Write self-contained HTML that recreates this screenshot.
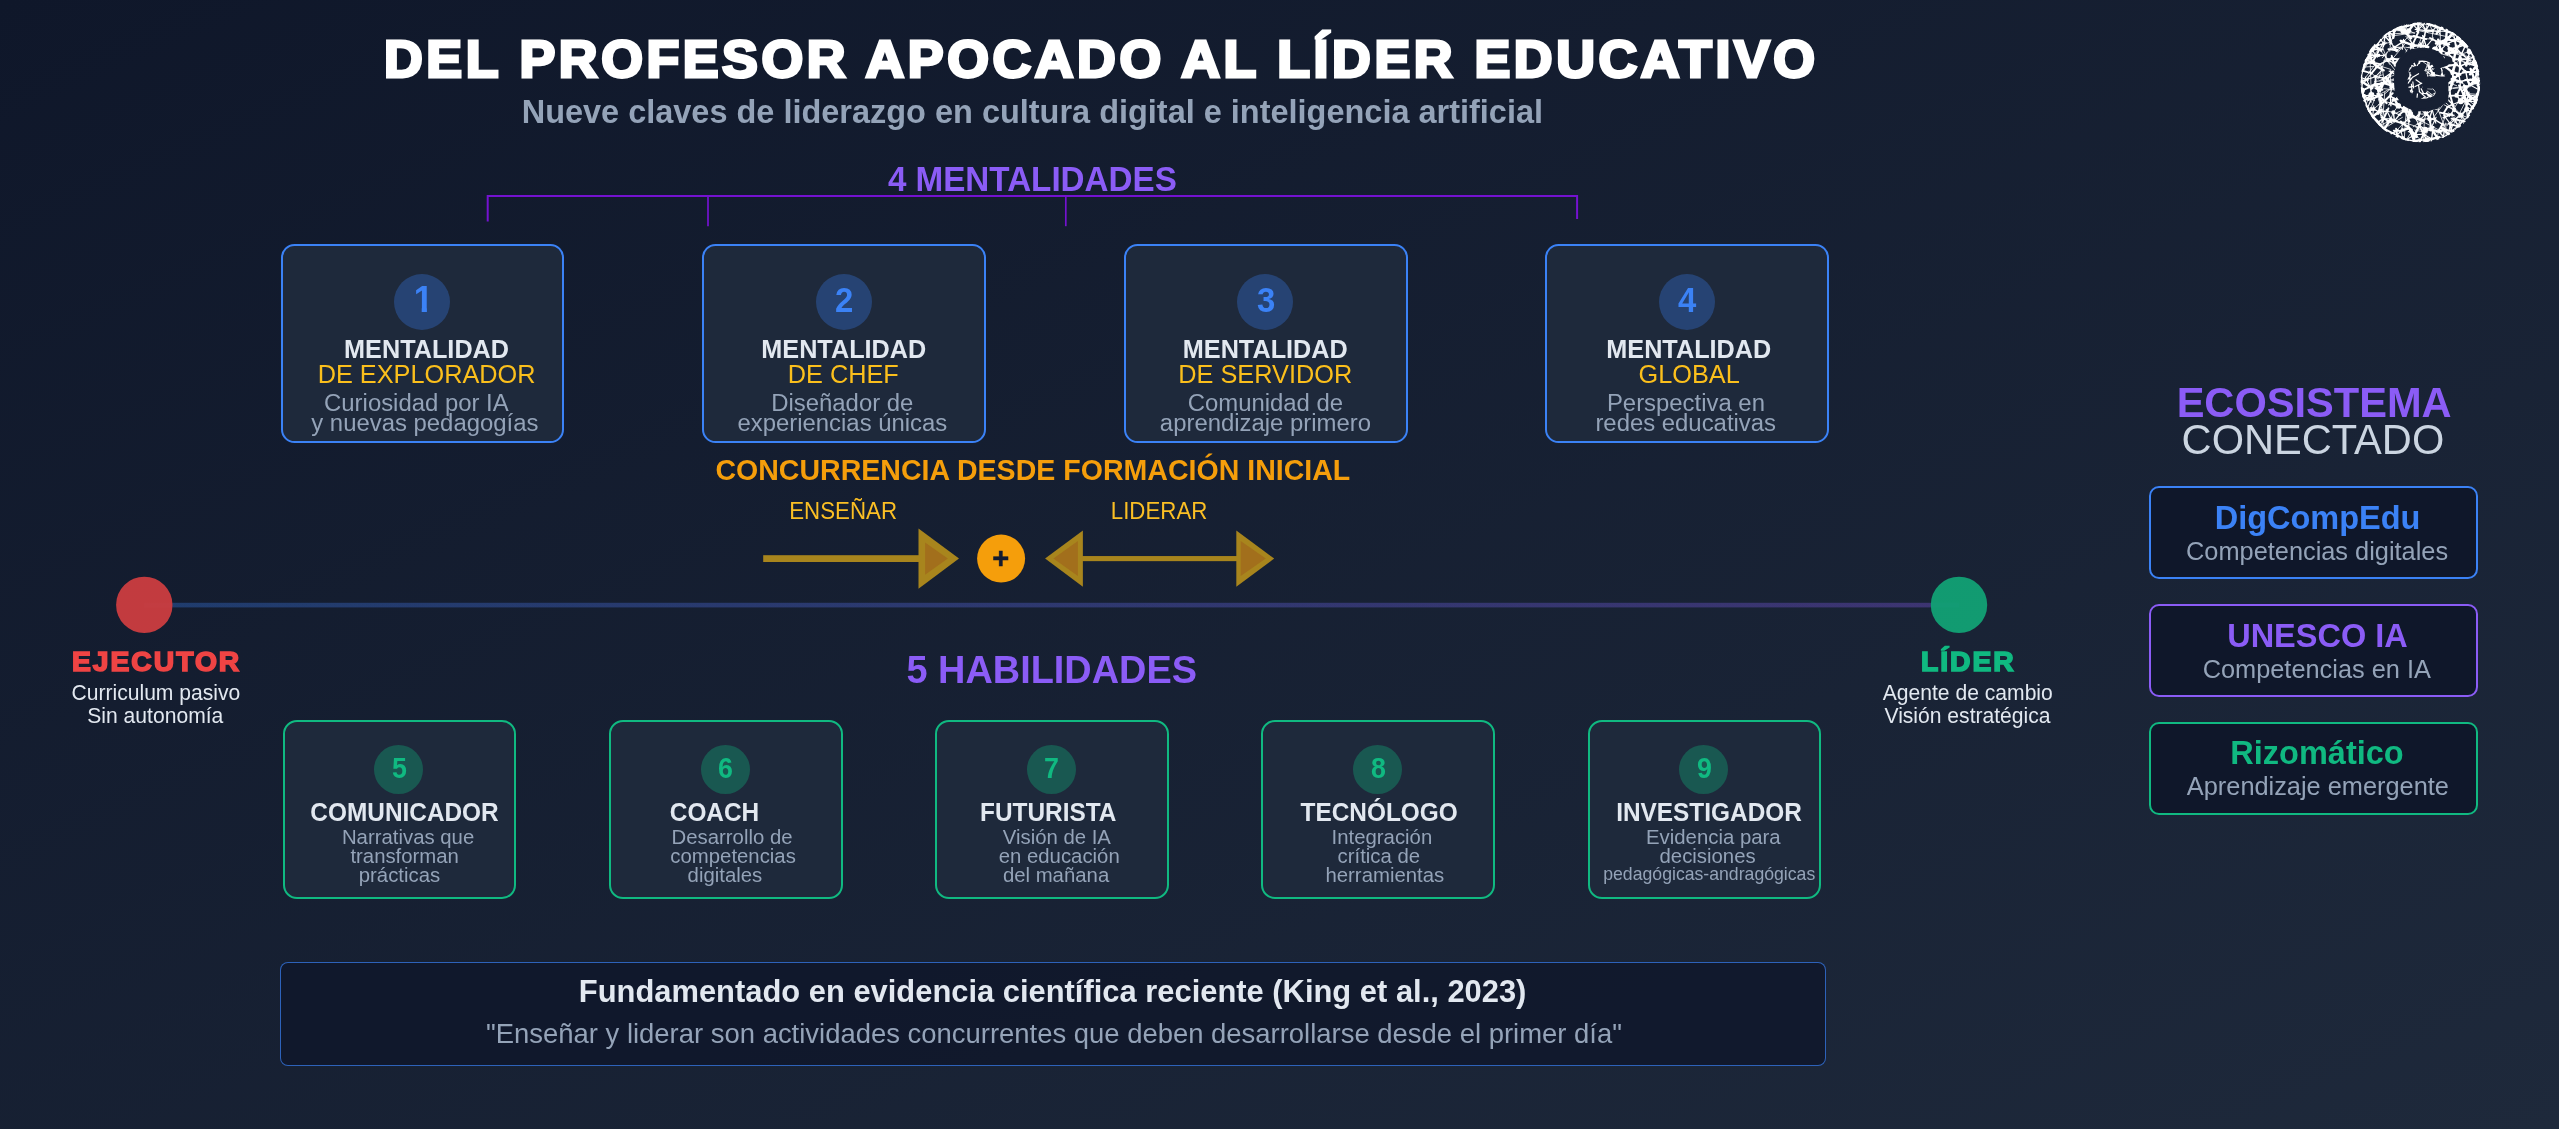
<!DOCTYPE html>
<html lang="es"><head><meta charset="utf-8"><title>Del profesor apocado al líder educativo</title>
<style>
html,body{margin:0;padding:0;}
body{width:2560px;height:1129px;overflow:hidden;position:relative;background:linear-gradient(to bottom right,#0f172a,#1e293b);font-family:"Liberation Sans",sans-serif;}
.t{position:absolute;white-space:nowrap;line-height:1;display:block;}
.b{position:absolute;box-sizing:border-box;}
.L{position:absolute;left:0;top:0;width:2560px;height:1129px;will-change:transform;}
.s{position:absolute;left:0;top:0;}
.edge{position:absolute;left:2559px;top:0;width:1px;height:1129px;background:#fff;}
</style></head><body>
<svg class="s" width="2560" height="1129" viewBox="0 0 2560 1129">
<defs><linearGradient id="tl" x1="0" y1="0" x2="1" y2="0"><stop offset="0" stop-color="#3b82f6"/><stop offset="1" stop-color="#8b5cf6"/></linearGradient></defs>
<g fill="none" stroke="#7412d0" stroke-width="2"><path d="M487.7 221.6V196H1577.1V218.9"/></g>
<g fill="none" stroke="#7412d0" stroke-width="1.7"><path d="M708 196V226.2"/><path d="M1065.8 196V226.2"/></g>
<rect x="144" y="602.8" width="1815" height="4.6" fill="url(#tl)" opacity="0.06"/>
<rect x="172.3" y="602.8" width="1758.6" height="4.6" fill="url(#tl)" opacity="0.27"/>
<circle cx="144.3" cy="604.9" r="28.2" fill="#ef4444" fill-opacity="0.8"/>
<circle cx="1959" cy="604.9" r="28.2" fill="#10b981" fill-opacity="0.8"/>
<rect x="763.2" y="555.2" width="160" height="6.8" fill="#a8851d"/>
<path d="M918.5 528.5L959 558.6L918.5 588.7Z" fill="#a8851d"/><path d="M925.1 542.4L947.8 558.6L925.1 574.8Z" fill="#a26f1c"/>
<rect x="1080" y="556.05" width="160" height="5.1" fill="#a8851d"/>
<path d="M1082.9 530.5L1045.1 558.6L1082.9 586.7Z" fill="#a8851d"/><path d="M1077.9 541.1L1053.4 558.6L1077.9 576.1Z" fill="#a26f1c"/>
<path d="M1236.3 530.5L1274.2 558.6L1236.3 586.7Z" fill="#a8851d"/><path d="M1240.7 541.1L1265.8 558.6L1240.7 576.1Z" fill="#a26f1c"/>
<circle cx="1001.1" cy="558.6" r="24" fill="#f59e0b"/>
<defs><clipPath id="lc"><circle cx="0" cy="0" r="59.8"/></clipPath></defs><g transform="translate(2420.4 82.4)" clip-path="url(#lc)"><path d="M-49.0 -19.1L-43.3 -27.8M51.9 0.4L42.4 8.1M38.9 44.4L28.5 41.0M33.4 33.0L19.8 30.2M39.4 -16.4L45.7 -10.0M-22.8 54.8L-24.3 46.2M42.2 -39.6L35.4 -34.2M-55.8 16.2L-59.4 5.7M-37.9 38.9L-32.0 25.9M-18.7 2.8L-11.8 -9.5M59.0 5.2L55.6 15.7M34.3 -43.3L35.9 -33.2M-4.2 -10.6L6.1 -3.4M-53.3 -28.0L-41.4 -26.3M-51.3 -31.0L-42.1 -38.2M45.8 39.5L31.1 36.2M0.2 -39.3L2.5 -26.6M-12.9 28.7L-24.7 21.8M-45.0 2.4L-39.4 7.1M1.2 9.7L-0.9 -2.3M-51.5 -25.3L-47.9 -35.3M16.8 1.1L12.0 -9.4M-40.9 14.3L-43.0 5.8M-46.9 35.6L-53.5 23.9M2.6 47.9L13.2 44.5M27.3 24.3L23.2 30.9M5.0 21.7L-3.9 26.5M26.4 47.3L15.7 49.3M-12.3 57.8L-19.3 55.0M21.0 49.3L9.5 47.6M57.6 -12.5L53.6 -0.9M-57.4 19.3L-47.2 11.1M-44.0 -26.7L-41.0 -33.2M24.6 -40.4L31.4 -31.3M52.5 -25.9L56.0 -15.9M-28.9 40.1L-38.8 34.9M12.0 21.9L9.5 12.7M25.3 15.7L30.4 13.0M45.5 3.5L43.2 15.8M-13.5 -25.6L-13.2 -18.4M57.6 -16.0L44.7 -19.7M-49.4 -8.5L-42.7 -16.5M33.4 48.6L21.7 47.6M-48.6 -20.3L-39.7 -18.1M8.3 33.8L-3.8 22.8M-42.3 31.7L-38.9 18.4M-51.9 -32.9L-37.9 -33.3M-16.3 41.5L-26.9 38.2M-38.3 20.9L-27.7 10.8M-44.9 3.1L-44.8 -6.4M37.0 13.0L29.2 13.3M-43.2 6.8L-36.6 0.5M-58.2 -11.8L-48.4 -9.1M47.6 25.5L39.2 34.4M-42.5 29.5L-32.5 28.7M-12.1 -46.2L-3.5 -45.7M-5.5 61.7L-10.6 47.4M26.6 -15.8L18.9 -15.7M-44.5 6.1L-37.9 7.3M-10.9 39.1L-16.6 24.4M-16.8 56.1L-24.0 52.4M-30.4 20.5L-21.4 23.6M-52.2 17.6L-38.2 12.6M-29.3 -24.1L-19.2 -22.0M-43.2 11.6L-33.7 20.8M47.7 -23.3L39.3 -23.2M47.1 -19.4L39.0 -15.9M17.8 49.5L22.2 41.4M-1.1 60.6L4.6 48.7M-27.2 -19.1L-19.9 -22.7M-32.0 -33.3L-22.7 -31.9M-2.9 -48.5L-9.3 -34.6M44.2 12.4L39.8 19.7M-28.7 -26.6L-25.6 -16.7M-14.8 -16.8L-7.0 -26.6M53.8 22.2L48.0 31.8M0.8 6.8L-5.6 5.0M59.0 -1.8L53.2 -2.7M44.9 15.8L38.6 3.0M-39.0 0.2L-26.5 4.0M33.3 -3.1L25.6 3.2M31.4 49.4L29.7 40.5M-52.5 5.4L-42.7 1.6M40.1 5.0L36.0 13.6M-57.6 -17.7L-46.0 -20.9M11.2 46.8L8.7 34.9M-3.4 15.7L-11.3 10.4M40.3 -23.3L32.8 -22.6M-6.8 -46.4L5.8 -43.3M54.5 -10.4L42.3 -10.2M-25.9 51.6L-38.2 45.5M31.7 31.6L23.0 35.3M56.4 -2.6L44.8 -2.4M-21.3 32.6L-15.3 27.0M-8.2 -37.4L0.9 -36.7M33.0 24.9L29.2 10.4M31.8 -11.3L33.2 -1.9M-60.1 8.9L-48.7 3.8M13.2 22.1L3.5 15.5M58.4 -4.3L57.0 2.9M25.6 -42.6L34.5 -42.1M-21.5 -22.7L-12.3 -18.4M36.7 -18.1L22.5 -15.4M-52.1 28.7L-46.5 26.6M11.0 14.5L-0.6 5.8M-30.2 4.7L-24.5 0.3M-3.2 1.6L3.0 -0.6M9.6 -44.4L20.7 -38.8M-33.5 -1.4L-28.2 -11.0M-11.4 11.1L-5.1 4.6M30.2 5.3L22.9 11.8M-6.5 5.8L1.7 -1.1" stroke="#fff" stroke-width="1.9" fill="none" stroke-linecap="round"/><path d="M-1.1 44.0L0.1 35.9M-55.0 -2.4L-43.7 -6.2M-40.1 43.2L-42.5 39.3M44.3 -39.9L50.4 -28.8M48.4 -32.2L53.6 -24.0M12.2 -52.9L11.9 -41.8M-40.7 43.5L-36.2 35.4M7.2 -21.9L8.9 -14.6M-35.9 -1.0L-38.7 -15.9M25.7 31.9L20.9 44.7M-28.1 31.3L-21.0 22.0M-1.6 -54.8L-4.7 -43.6M-19.2 11.1L-17.2 -0.3M-6.4 5.7L1.1 -0.3M-51.1 4.3L-42.1 6.6M14.1 -20.3L22.7 -14.4M-0.2 1.0L1.3 -0.9M-42.4 43.8L-29.0 38.0M-4.2 -61.2L7.6 -49.7M24.3 49.0L21.5 40.7M-24.9 -12.5L-10.3 -5.6M-5.6 -28.5L0.1 -21.1M33.3 -23.6L34.7 -16.8M-41.9 22.1L-33.5 17.3M-31.9 -32.4L-24.7 -35.7M0.4 39.1L-1.7 29.6M1.9 24.2L5.3 15.4M19.4 -54.5L27.5 -50.5M24.4 -7.5L14.0 1.1M-42.6 -31.3L-35.1 -40.6M-26.9 -51.9L-16.3 -51.4M-34.2 28.6L-26.1 30.1M27.7 24.5L19.7 20.3M57.3 11.0L51.1 27.6M-10.8 49.1L-12.3 32.9M4.9 58.2L12.9 55.9M-29.6 -42.0L-30.6 -31.1M-53.3 25.2L-46.4 26.9M-34.1 -3.2L-24.8 2.3M41.2 -24.9L32.9 -15.9M31.7 47.9L27.6 52.1M-51.3 -11.4L-42.3 -3.6M16.3 57.9L18.7 46.3M49.7 -31.0L40.7 -28.3M12.3 36.2L-3.3 37.1M-29.5 2.0L-13.9 -0.2M-41.6 16.2L-39.0 4.4M-17.4 -40.6L-11.2 -46.3M54.3 24.3L43.9 27.8M20.2 49.9L8.8 44.3M1.5 58.5L-6.7 51.2M-49.0 13.7L-50.4 3.4M-47.9 27.5L-38.5 19.9M43.3 41.6L39.8 29.9M7.4 -38.3L0.5 -26.5M-38.0 -38.5L-28.4 -40.3M-51.4 29.2L-52.9 24.7M-20.3 50.7L-16.4 38.9M-10.3 -25.3L1.4 -21.0M-26.4 21.8L-39.2 17.6M-30.1 -9.6L-20.7 -11.3M-11.6 -12.3L-3.4 -15.3M54.3 -26.8L45.0 -17.7M-26.9 18.5L-17.9 9.3M-58.4 18.3L-46.4 16.1M-58.9 -4.0L-57.7 -12.3M-2.3 34.5L-15.0 36.8M23.8 54.4L16.3 55.4M-0.2 -57.2L11.5 -58.4M14.0 -8.2L2.5 -4.7M57.9 -2.5L58.4 7.7M30.4 41.4L21.4 42.0M-24.2 48.4L-16.9 40.9M7.7 -60.6L13.4 -49.0M48.8 35.5L39.0 32.3M-11.9 -53.5L-11.3 -44.1M-15.2 59.1L-8.2 48.4M-28.1 50.6L-19.4 48.3M-37.9 0.8L-25.2 1.6M10.7 38.9L4.1 29.0M-13.3 39.4L-8.8 28.3M-29.7 36.8L-26.9 29.7M14.3 -35.2L15.2 -23.5M55.5 -4.0L48.0 3.9M7.3 31.5L-2.6 31.8M-38.1 -24.6L-28.2 -35.5M-16.0 -58.2L-10.5 -49.5M-41.9 -34.2L-35.1 -26.0M36.3 39.0L28.1 30.2M47.3 -18.7L38.8 -23.6M4.5 -6.3L0.1 0.9M-18.2 0.6L-8.6 -2.5M17.2 -33.6L3.7 -31.8M-13.3 -59.1L-18.4 -48.5M3.1 -43.9L12.0 -43.2M-1.9 -38.8L8.9 -30.1M56.0 -19.2L45.9 -24.1" stroke="#fff" stroke-width="0.8" fill="none" stroke-linecap="round"/><path d="M5.8 -53.8L2.7 -42.0M49.1 12.2L42.5 13.5M23.2 54.4L18.2 48.9M45.2 -11.7L47.3 -1.0M4.3 -6.0L-0.4 1.3M-58.5 11.0L-58.3 -3.5M-46.3 -6.1L-35.0 -3.8M-2.4 34.8L3.6 20.1M-49.7 25.3L-38.9 30.8M-8.2 -38.1L-5.0 -27.4M34.9 -35.4L42.0 -27.5M1.5 -6.4L12.1 -0.2M20.7 -24.0L20.8 -14.7M23.0 56.2L24.0 46.1M-33.6 39.2L-23.5 38.3M-56.0 -23.3L-46.3 -19.4M42.1 -39.3L34.2 -42.2M43.5 37.6L36.5 45.1M16.1 -26.0L6.2 -21.0M48.5 9.9L45.6 21.7M-15.1 -56.1L-6.8 -57.6M-34.4 -23.1L-24.6 -18.6M-27.7 -34.0L-15.7 -41.8M-3.5 59.3L-16.9 56.5M8.2 60.6L1.4 49.0M47.1 35.3L46.1 26.6M45.3 6.0L39.5 5.5M-32.0 -50.5L-26.3 -46.4M26.9 2.9L16.3 4.2M-46.7 35.7L-52.7 27.0M12.5 57.1L1.8 51.1M8.5 38.1L12.4 25.7M-20.6 -22.5L-22.0 -11.0M-41.4 -17.5L-31.2 -23.0M50.3 -3.2L36.4 -0.1M33.8 23.7L24.2 13.9M60.1 -11.1L48.3 -10.1M51.9 -28.2L55.2 -17.1M49.6 -32.7L47.1 -21.5M10.9 59.3L12.7 45.1M-58.1 1.8L-59.1 -7.1M56.4 11.0L56.0 21.5M38.9 -30.4L49.8 -21.4M-44.8 -36.0L-39.3 -42.6M-9.7 -27.4L-3.2 -12.2M-34.9 -49.4L-37.1 -35.6M27.7 13.7L18.2 22.2M32.9 -49.5L34.6 -41.5M11.9 27.7L11.7 20.9M39.7 -1.4L39.9 6.1M-42.9 39.9L-36.0 35.7M48.2 -38.8L32.9 -33.5M37.3 -45.5L46.6 -36.8M37.7 44.2L34.3 36.7M38.3 -8.8L39.8 -0.3M24.7 34.8L23.2 30.7M-22.4 -5.3L-12.1 -7.2M-29.5 51.5L-22.4 47.2M23.7 43.0L12.7 36.3M2.3 -46.7L6.8 -32.9M-1.2 25.3L-3.8 15.2M58.0 0.4L48.8 2.6M-44.5 -26.7L-35.5 -27.0M16.1 37.7L7.4 36.1M1.9 -58.4L5.8 -51.0M54.5 27.4L43.8 16.7M44.4 13.3L35.5 13.0M-26.0 38.7L-27.0 29.8M2.8 -31.5L-1.0 -19.2M-37.3 1.1L-32.5 -2.8M11.3 -51.6L18.9 -51.0M-21.9 -55.6L-16.0 -50.6M16.7 -0.5L9.2 -1.6M25.0 9.6L16.7 18.8M40.0 -18.4L38.1 -6.0M-47.1 -35.5L-34.1 -39.5M56.2 -20.2L44.6 -19.0M-26.1 38.7L-20.9 32.2M-36.0 -45.7L-30.9 -50.7M41.0 33.0L33.3 27.2M-1.2 32.5L-1.3 24.3M26.8 -0.1L22.4 14.7M-13.1 -13.8L0.8 -7.8M41.6 32.2L33.5 37.5M-25.2 17.9L-30.6 12.5M-57.1 -21.2L-40.9 -28.0M-37.0 1.1L-36.5 -4.3M0.9 10.2L0.0 -3.1M24.1 -5.5L11.0 -8.1M38.7 -40.7L48.6 -36.5M7.9 16.9L-6.8 15.1M19.5 -41.7L13.4 -31.5M50.6 29.5L45.2 26.5M3.3 52.4L-1.2 42.5M-1.8 1.6L2.2 -1.4M-52.5 26.0L-55.8 17.2M-54.9 20.2L-57.3 11.2M4.3 -47.0L-0.4 -33.7M34.7 25.9L28.9 33.8M49.7 28.8L47.0 35.1M9.3 -58.8L4.9 -51.1M27.4 -29.6L33.8 -22.3M-59.8 12.4L-46.1 17.9M-34.7 -49.0L-23.0 -53.0M41.4 20.2L35.2 11.6M-38.3 -2.8L-27.0 -11.2M-12.6 -3.2L2.7 1.6M37.4 -43.3L23.1 -37.3M32.7 21.8L26.9 24.6M-36.7 -47.7L-28.5 -38.6M8.3 57.8L-1.4 57.5M58.9 4.5L55.5 21.6M-30.4 15.0L-28.2 1.5M45.8 -38.5L40.8 -27.7M47.5 -10.8L36.4 -7.7M-29.5 23.4L-30.2 10.4M-14.9 -19.6L-2.6 -14.2" stroke="#fff" stroke-width="1.4" fill="none" stroke-linecap="round"/><path d="M-16.4 48.5L-27.0 48.0M-5.6 -17.7L-0.5 -6.2M29.8 5.5L29.9 13.4M-31.7 22.5L-23.7 15.6M-17.6 55.7L-19.5 48.3M-60.8 0.5L-51.4 -3.9M38.8 43.1L30.0 49.3M28.0 52.2L30.0 40.9M26.1 -38.5L20.3 -32.1M20.5 -17.5L22.7 -4.1M41.6 -29.8L39.1 -21.8M-36.8 36.1L-29.3 36.5M-11.6 -46.7L-7.8 -36.9M27.5 18.2L21.6 8.7M31.3 43.3L23.3 32.8M57.3 13.8L46.9 12.3M-8.0 33.0L-17.7 25.6M-14.7 -25.3L-7.3 -24.5M59.4 18.8L42.9 19.2M-31.8 -42.8L-24.1 -32.3M-49.4 19.9L-49.0 9.3M44.3 -27.5L31.9 -31.5M-52.9 25.8L-49.1 16.2M16.6 -56.3L11.5 -50.9M-15.5 58.0L-4.0 51.4M58.6 -2.3L48.7 2.9M-19.7 32.9L-28.3 29.4M15.7 -1.7L17.6 5.2M54.3 -20.1L55.8 -16.4M22.4 -34.8L12.9 -22.8M-14.4 -4.4L-9.5 -15.2M-15.2 -9.5L-7.5 0.3M-1.7 38.4L7.4 30.0M-5.3 -53.0L8.4 -51.5M-40.2 -18.7L-38.0 -12.4M-40.6 -41.3L-34.3 -47.3M29.1 51.1L22.2 55.0M31.3 13.6L21.9 11.2M-2.5 -59.2L2.9 -57.3M-49.1 7.0L-55.1 -5.3M-49.8 -34.4L-43.0 -25.3M-20.0 54.4L-31.1 49.1M5.7 51.7L-8.1 52.4M-20.9 -22.2L-13.2 -25.3M-25.1 55.2L-17.6 45.9M11.1 12.6L3.5 17.4M-20.0 10.5L-10.0 10.7M31.8 -49.9L39.6 -43.4M-59.1 14.0L-46.6 12.2M-9.3 51.2L-11.4 44.9M-60.7 -5.4L-52.0 -2.1M28.9 -51.1L15.5 -51.1M-48.1 37.6L-46.6 23.3M-6.2 35.8L-0.3 31.1M-24.4 -32.1L-17.7 -35.3M-3.7 -29.5L-10.0 -23.1M-2.0 -9.7L1.1 0.4M19.7 -32.3L28.3 -29.0M-36.2 36.5L-42.0 29.0M-5.4 5.4L-9.7 -2.6M12.8 26.8L4.8 32.2M-31.3 -11.3L-18.8 -4.1M-28.8 38.1L-34.1 27.1M4.3 -59.4L-4.1 -50.7M14.4 48.3L2.8 46.9M-18.5 42.6L-10.6 34.9M-45.0 -5.6L-37.9 -13.0M54.2 -25.9L46.0 -22.7M-36.6 -28.1L-31.8 -21.2M-40.0 -43.0L-36.1 -38.1M-44.8 -14.7L-38.6 -19.3M-31.4 39.3L-29.3 36.1M-15.3 18.1L-20.3 8.1M-56.0 -0.1L-46.7 -11.9M-3.0 53.5L-12.0 49.2M0.7 -23.2L-5.3 -13.4M12.9 -44.4L4.9 -34.5M9.7 47.9L15.7 34.8M-8.0 -58.3L-1.4 -51.9M14.5 -58.5L19.5 -48.2M42.2 18.0L30.4 22.8M37.9 -45.2L42.3 -38.7M34.4 27.8L26.5 23.9M-30.7 -38.0L-26.0 -48.8M21.1 18.0L7.1 12.5M-49.3 12.6L-40.9 13.7M56.7 -14.1L58.3 1.3M26.7 -15.1L14.1 -19.7M7.2 48.8L-3.2 41.4M-56.3 -15.5L-53.0 -25.3M12.6 48.6L10.6 44.7M-26.8 -35.0L-17.2 -35.3M49.4 33.0L40.2 40.6M-16.9 -43.1L-18.1 -32.9M2.8 52.7L5.3 46.4M59.0 2.0L52.7 -3.9M-27.1 -51.4L-20.0 -55.2M34.1 29.4L31.7 20.1M59.5 7.8L48.2 1.9M-0.5 43.8L-5.8 34.3M15.4 40.8L11.0 24.1M-38.2 -4.9L-31.1 -1.7M17.5 55.2L10.6 56.5M-27.9 -22.1L-20.6 -8.5M35.2 36.1L29.1 42.3M41.1 -15.8L33.0 -18.1M18.2 4.7L9.0 -2.2M-34.6 47.8L-41.8 41.6" stroke="#fff" stroke-width="1.1" fill="none" stroke-linecap="round"/><path d="M1.0 -28.4L7.4 -32.9M-18.6 -51.5L-10.2 -51.5M57.1 -2.5L58.8 10.3M-8.7 47.5L-19.6 39.4M16.4 -19.2L8.5 -14.7M30.5 6.1L25.2 2.6M-44.6 -16.6L-36.8 -12.1M-1.2 -37.1L7.8 -35.4M26.6 15.3L17.6 17.1M-14.2 -21.0L-9.7 -10.5M-42.1 7.8L-45.6 1.1M22.5 -56.1L16.2 -48.9M20.9 20.4L11.0 21.2M49.4 2.7L46.9 -2.7M30.6 -34.2L27.1 -28.2M41.5 -0.3L31.3 -3.4M6.0 -21.9L17.2 -18.6M54.1 -20.9L57.3 -10.0M-60.3 -1.9L-48.4 5.8M-23.6 -54.0L-12.0 -56.8M23.1 -24.8L13.6 -17.0M20.2 20.6L18.4 16.8M-5.7 -59.6L-13.3 -49.4M-1.8 -61.8L-2.3 -49.8M15.9 -40.4L28.6 -38.0M24.3 -51.8L35.0 -48.3M-6.7 54.6L0.2 40.7M46.4 19.1L40.2 18.7M13.9 -26.0L21.9 -22.3M4.8 -51.9L12.6 -51.5M-32.8 -22.2L-27.6 -23.9M-41.5 40.4L-48.6 33.3M18.4 57.9L10.7 45.5M-31.6 -50.5L-29.7 -39.7M47.3 21.6L42.6 10.8M-25.9 -54.1L-27.1 -44.6M13.4 -9.2L9.3 -0.1M-16.9 28.8L-9.5 20.1M-50.5 36.3L-38.9 27.3M-25.8 38.6L-29.8 36.4M57.0 17.5L51.2 26.4M4.5 58.2L18.9 54.8M48.0 -25.5L45.9 -16.9M21.6 -8.0L26.7 5.1M46.2 18.9L46.1 27.3M35.2 -31.7L33.3 -21.4M-9.5 -56.9L0.3 -59.6M-21.2 24.8L-26.6 15.9M-10.1 22.5L-17.2 14.8M-19.0 -53.4L-9.4 -44.2M5.9 -35.9L6.4 -32.1M26.5 -53.3L25.5 -40.5M49.2 15.4L43.7 3.0M-3.3 36.6L-12.1 29.8M-56.2 -16.7L-49.8 -29.2M35.1 -19.4L31.4 -8.6M-50.8 -28.2L-48.1 -19.7M1.5 -29.9L7.8 -20.7M-7.1 6.4L1.1 -0.7M25.0 13.7L15.6 1.9M55.2 -19.4L57.7 -7.9M23.5 -16.8L33.2 -9.3M-58.1 -11.0L-55.1 -19.0M28.3 -34.0L36.6 -29.6M50.2 -13.5L55.3 0.6M20.4 -23.5L25.1 -15.2M57.6 20.1L46.3 11.2M13.0 -33.5L21.8 -31.8M-34.1 48.8L-44.4 37.3M25.6 -43.3L26.1 -37.8M0.7 7.2L0.8 -0.7M-46.5 -37.8L-39.2 -31.7M-27.7 17.7L-14.6 15.2M17.8 -42.8L21.0 -29.2M-49.0 -20.9L-42.6 -15.2M30.6 53.9L21.3 45.6M6.1 32.3L2.0 22.3M-8.4 -27.5L5.2 -29.6M-37.9 49.4L-29.3 36.1M28.6 -43.7L15.6 -38.8M-48.0 3.1L-33.9 0.2M34.0 -5.5L28.9 8.2M3.0 37.9L-8.4 34.0M-22.0 -11.7L-21.2 -5.0M39.5 -26.3L39.7 -13.1M14.7 -28.1L16.4 -16.4M-40.3 8.7L-36.3 -0.8M35.3 -50.9L23.4 -40.7M37.2 -30.9L25.5 -28.8M39.3 -45.0L33.6 -41.5M57.2 13.1L45.3 19.6M38.7 -8.6L32.7 -2.6M-13.4 23.9L-1.2 13.2M-6.6 58.9L-5.5 52.1M-19.5 -41.6L-5.7 -36.6M-17.4 16.4L-10.0 9.9M-3.7 54.5L-13.0 43.5M-21.5 -5.8L-17.1 0.5M36.1 -36.6L34.6 -28.3M8.0 -16.4L13.6 -6.3M-54.7 -21.4L-49.9 -28.7M-39.1 22.4L-41.4 12.0M39.9 -7.8L30.5 -10.8M-0.8 -21.6L7.7 -21.5M57.4 -18.7L49.7 -8.2M-19.7 48.4L-11.0 45.6M19.2 16.5L11.0 21.6M0.6 57.5L-6.8 58.7M37.3 -34.8L28.3 -32.8M-26.7 6.0L-34.7 -5.1M-39.9 43.4L-48.2 33.7M-27.0 3.0L-20.4 -6.9M-26.5 -35.7L-23.9 -31.5M-9.8 34.7L-11.1 18.4M7.0 -58.8L17.8 -54.9M14.2 -56.2L22.4 -53.3" stroke="#fff" stroke-width="2.4" fill="none" stroke-linecap="round"/><path d="M12.8 -5.7L26.3 17.9M53.1 2.5L29.0 6.1M-14.9 40.6L10.9 48.8M7.7 -19.9L-2.2 8.8M0.7 -6.9L21.9 17.1M-2.4 -24.2L12.9 -13.3M47.7 16.8L75.7 31.4M6.3 -57.0L1.4 -29.1M-15.1 -35.2L9.7 -31.8M30.3 -29.4L61.2 -23.2M-47.2 -18.7L-29.1 -12.8M-17.7 34.8L-32.7 43.9M50.4 4.2L32.2 6.2M-20.6 -42.3L-11.4 -27.2M23.7 19.0L43.9 36.8M-51.9 16.1L-58.4 32.0M35.7 -19.6L28.9 8.4M-50.3 -22.2L-49.1 13.2M9.7 -30.6L22.1 -11.6M-11.4 17.1L-12.1 47.3M-35.6 9.4L-37.9 40.2M5.1 -13.5L26.9 13.3M-6.1 47.6L7.4 50.3M-1.7 2.5L18.8 17.5M30.9 -48.8L10.8 -28.3M-3.7 -26.9L-37.4 -21.3M-6.2 -31.5L10.1 -29.1M-7.5 -21.0L6.4 11.4M-5.4 44.2L6.4 50.8M-42.2 16.4L-35.6 33.7M-1.5 -36.8L-2.0 -21.7M-29.8 -12.5L-30.0 7.2M46.8 16.1L30.8 46.7M-36.9 6.2L-16.0 8.7M-14.6 -39.4L-27.0 -24.6M-45.8 -17.2L-64.1 7.7M54.7 -9.8L63.1 7.5M7.9 9.4L-17.1 17.3M17.5 -29.6L32.1 -25.4M28.2 -17.8L41.5 -15.8M-33.1 -30.7L-41.7 -3.5M-0.1 -36.6L-12.6 -35.0M-0.5 -51.5L30.7 -44.9M-20.1 -16.0L-0.8 -12.9M25.3 40.3L26.3 67.8M9.3 -6.3L36.6 3.4M-46.4 -16.0L-75.8 -14.0M-8.6 -7.9L-27.9 -3.3M17.4 26.2L25.6 48.0M-0.8 5.6L12.0 6.7M21.6 12.5L17.7 29.3M32.0 37.8L42.0 44.8M-9.9 18.7L18.3 27.9M-31.7 -20.5L-15.6 0.5M-16.3 -1.0L-45.1 14.2M1.1 -44.8L-9.5 -18.8M27.9 15.3L9.2 40.2M-12.6 -13.8L2.3 13.9M-12.1 -12.6L-41.0 -1.8M-13.1 -33.3L-22.8 -10.9M-14.8 -46.4L-6.4 -36.9M-40.2 31.7L-35.5 45.7M38.2 36.6L43.8 56.2M9.6 55.3L-23.2 65.1M4.0 37.6L2.4 73.4M5.1 21.0L17.7 22.6M46.3 16.7L70.7 35.0M44.5 -36.3L56.5 -23.3M-10.0 -36.1L-8.9 -15.1M34.8 34.0L26.3 43.6M-37.6 -7.6L-59.9 -1.1M-45.1 15.0L-52.7 34.2M-4.9 35.5L22.2 49.5M-29.3 3.4L-8.5 11.6M46.0 11.1L73.1 13.3M-47.0 -30.1L-58.9 -7.9M29.3 -47.6L50.2 -34.5M-10.9 -48.8L-38.2 -45.3M3.1 19.7L5.8 32.4M51.8 -18.3L72.6 -10.3M-1.0 -3.1L-14.8 -2.9M29.8 5.8L12.3 11.7M10.7 -14.0L-19.3 -4.5M41.6 35.0L34.8 47.5M5.7 36.2L-7.6 44.6M-36.3 -40.1L-46.9 -26.7M19.9 -52.0L19.9 -39.2M15.1 9.5L2.0 41.5M5.7 -10.8L21.4 -1.9M-16.7 -55.0L-5.7 -48.8M10.6 -27.4L5.6 1.9M34.8 -2.8L29.6 8.1M-10.3 -4.9L-38.7 0.3M-39.6 -38.9L-30.8 -17.8M25.1 -29.0L49.7 -17.1M51.8 -1.2L33.3 26.5M-3.2 21.3L-24.6 30.8M-14.2 28.9L-16.1 55.7M-21.5 -0.4L-36.7 12.3M32.0 -3.9L43.9 1.9M-5.2 -49.7L-35.5 -48.3M-33.3 47.2L-59.0 56.8M-17.8 -3.8L-46.4 -0.9M31.0 22.2L44.7 36.9M20.5 -18.3L-0.4 -4.3" stroke="#fff" stroke-width="0.8" fill="none"/><g fill="#fff"><circle cx="6.5" cy="57.7" r="2.9"/><circle cx="-17.6" cy="55.6" r="2.1"/><circle cx="-56.6" cy="13.7" r="2.3"/><circle cx="-58.5" cy="8.2" r="3.0"/><circle cx="-48.8" cy="-33.0" r="2.9"/><circle cx="-26.2" cy="-51.9" r="1.9"/><circle cx="-20.9" cy="-54.7" r="3.2"/><circle cx="-2.0" cy="-59.0" r="2.1"/><circle cx="38.4" cy="-44.4" r="2.8"/><circle cx="41.8" cy="-39.4" r="2.9"/><circle cx="45.5" cy="-37.8" r="3.2"/><circle cx="49.2" cy="-30.9" r="2.9"/><circle cx="54.4" cy="-20.0" r="2.9"/><circle cx="56.1" cy="18.9" r="2.5"/><circle cx="-46.9" cy="26.7" r="2.0"/><circle cx="-49.1" cy="12.6" r="2.9"/><circle cx="-36.6" cy="-38.7" r="1.8"/><circle cx="-17.0" cy="-51.5" r="3.0"/><circle cx="-11.8" cy="-51.5" r="2.4"/><circle cx="25.7" cy="-42.6" r="2.0"/><circle cx="54.2" cy="-2.5" r="3.1"/><circle cx="46.1" cy="27.0" r="2.4"/><circle cx="40.7" cy="32.8" r="2.5"/><circle cx="4.9" cy="47.2" r="2.8"/><circle cx="39.5" cy="-23.2" r="2.3"/><circle cx="40.3" cy="18.8" r="3.0"/><circle cx="33.6" cy="27.4" r="2.0"/><circle cx="14.5" cy="-33.2" r="2.7"/><circle cx="20.3" cy="-32.1" r="2.4"/><circle cx="36.2" cy="13.1" r="2.3"/><circle cx="9.0" cy="36.4" r="2.2"/><circle cx="-27.0" cy="30.0" r="2.1"/><circle cx="-32.6" cy="-22.3" r="2.1"/><circle cx="-8.0" cy="-37.4" r="2.6"/><circle cx="5.8" cy="31.5" r="2.2"/><circle cx="-10.1" cy="31.4" r="2.8"/><circle cx="-15.5" cy="27.2" r="3.1"/><circle cx="-22.1" cy="23.4" r="2.8"/><circle cx="32.0" cy="-10.3" r="2.2"/></g><ellipse cx="-3.5" cy="0.5" rx="11" ry="17" fill="#172033"/><path d="M-2.9 11.1L-3.4 15.3M-8.5 6.8L-11.7 11.0M-7.2 9.0L-13.4 10.0M-1.5 8.8L5.5 15.0M-1.8 3.0L-0.9 9.3M-7.6 -5.6L-13.3 2.0M-7.6 -0.9L-6.8 6.0M-10.8 8.1L-9.5 12.9M-7.1 3.8L-13.9 5.5M0.5 6.0L3.5 11.6M2.2 4.8L7.5 4.8M-9.0 1.3L-8.2 10.9M-9.2 -7.8L-13.1 -2.3M-10.5 -10.3L-10.5 -0.9M0.1 10.6L5.6 11.3M-1.4 -8.8L-8.2 -5.0M-4.8 -3.0L0.8 1.0M1.9 0.6L-5.8 4.4" stroke="#fff" stroke-width="1.2" fill="none"/></g>
</svg>
<div class="L">
<span class="t" style="left:383.76px;top:33.71px;font-size:51.6px;color:#ffffff;font-weight:700;letter-spacing:3.42px;transform:scale(1.04,1.0);transform-origin:0 43.69px;-webkit-text-stroke:3px #fff;">DEL PROFESOR APOCADO AL LÍDER EDUCATIVO</span>
<span class="t" style="left:521.71px;top:95.50px;font-size:32.48px;color:#94a3b8;font-weight:700;transform:scale(1.0,1.015);transform-origin:0 27.50px;">Nueve claves de liderazgo en cultura digital e inteligencia artificial</span>
<span class="t" style="left:887.91px;top:162.89px;font-size:33.2px;color:#8b5cf6;font-weight:700;transform:scale(1.0,1.035);transform-origin:0 28.11px;">4 MENTALIDADES</span>
<div class="b" style="left:280.60px;top:244.30px;width:283.80px;height:199.20px;border:2.8px solid #3b82f6;background:#1e293b;border-radius:13.5px;"></div>
<div class="b" style="left:394.40px;top:273.95px;width:56.00px;height:56.00px;border-radius:50%;background:rgba(59,130,246,0.3);"></div>
<span class="t" style="left:413.74px;top:281.97px;font-size:35px;color:#3b82f6;font-weight:700;transform:scale(1.0,1.035);transform-origin:0 29.63px;clip-path:polygon(0 -5px,19.47px -5px,19.47px 26.06px,13.17px 26.06px,13.17px 40px,7.97px 40px,7.97px 26.06px,0 26.06px);">1</span>
<span class="t" style="left:344.05px;top:336.72px;font-size:25.25px;color:#e2e8f0;font-weight:700;transform:scale(1.0,1.035);transform-origin:0 21.38px;">MENTALIDAD</span>
<span class="t" style="left:317.68px;top:362.18px;font-size:25.3px;color:#fbbf1c;transform:scale(1.0,1.035);transform-origin:0 21.42px;">DE EXPLORADOR</span>
<span class="t" style="left:324.09px;top:391.46px;font-size:23.9px;color:#94a3b8;transform:scale(1.0,1.015);transform-origin:0 20.24px;">Curiosidad por IA</span>
<span class="t" style="left:311.27px;top:411.06px;font-size:23.9px;color:#94a3b8;transform:scale(1.0,1.015);transform-origin:0 20.24px;">y nuevas pedagogías</span>
<div class="b" style="left:702.20px;top:244.30px;width:283.80px;height:199.20px;border:2.8px solid #3b82f6;background:#1e293b;border-radius:13.5px;"></div>
<div class="b" style="left:815.80px;top:273.95px;width:56.00px;height:56.00px;border-radius:50%;background:rgba(59,130,246,0.3);"></div>
<span class="t" style="left:835.31px;top:282.17px;font-size:35px;color:#3b82f6;font-weight:700;transform:scale(0.94,1.015);transform-origin:0 29.63px;">2</span>
<span class="t" style="left:761.25px;top:336.72px;font-size:25.25px;color:#e2e8f0;font-weight:700;transform:scale(1.0,1.035);transform-origin:0 21.38px;">MENTALIDAD</span>
<span class="t" style="left:787.76px;top:362.18px;font-size:25.3px;color:#fbbf1c;transform:scale(1.0,1.035);transform-origin:0 21.42px;">DE CHEF</span>
<span class="t" style="left:771.25px;top:391.46px;font-size:23.9px;color:#94a3b8;transform:scale(1.0,1.015);transform-origin:0 20.24px;">Diseñador de</span>
<span class="t" style="left:737.46px;top:411.06px;font-size:23.9px;color:#94a3b8;transform:scale(1.0,1.015);transform-origin:0 20.24px;">experiencias únicas</span>
<div class="b" style="left:1123.80px;top:244.30px;width:283.80px;height:199.20px;border:2.8px solid #3b82f6;background:#1e293b;border-radius:13.5px;"></div>
<div class="b" style="left:1237.40px;top:273.95px;width:56.00px;height:56.00px;border-radius:50%;background:rgba(59,130,246,0.3);"></div>
<span class="t" style="left:1257.08px;top:282.17px;font-size:35px;color:#3b82f6;font-weight:700;transform:scale(0.94,1.015);transform-origin:0 29.63px;">3</span>
<span class="t" style="left:1182.75px;top:336.72px;font-size:25.25px;color:#e2e8f0;font-weight:700;transform:scale(1.0,1.035);transform-origin:0 21.38px;">MENTALIDAD</span>
<span class="t" style="left:1178.32px;top:362.18px;font-size:25.3px;color:#fbbf1c;transform:scale(1.0,1.035);transform-origin:0 21.42px;">DE SERVIDOR</span>
<span class="t" style="left:1187.71px;top:391.46px;font-size:23.9px;color:#94a3b8;transform:scale(1.0,1.015);transform-origin:0 20.24px;">Comunidad de</span>
<span class="t" style="left:1159.86px;top:411.06px;font-size:23.9px;color:#94a3b8;transform:scale(1.0,1.015);transform-origin:0 20.24px;">aprendizaje primero</span>
<div class="b" style="left:1545.40px;top:244.30px;width:283.80px;height:199.20px;border:2.8px solid #3b82f6;background:#1e293b;border-radius:13.5px;"></div>
<div class="b" style="left:1659.00px;top:273.95px;width:56.00px;height:56.00px;border-radius:50%;background:rgba(59,130,246,0.3);"></div>
<span class="t" style="left:1678.31px;top:282.17px;font-size:35px;color:#3b82f6;font-weight:700;transform:scale(0.94,1.015);transform-origin:0 29.63px;">4</span>
<span class="t" style="left:1606.25px;top:336.72px;font-size:25.25px;color:#e2e8f0;font-weight:700;transform:scale(1.0,1.035);transform-origin:0 21.38px;">MENTALIDAD</span>
<span class="t" style="left:1638.58px;top:362.18px;font-size:25.3px;color:#fbbf1c;transform:scale(1.0,1.035);transform-origin:0 21.42px;">GLOBAL</span>
<span class="t" style="left:1606.91px;top:391.46px;font-size:23.9px;color:#94a3b8;transform:scale(1.0,1.015);transform-origin:0 20.24px;">Perspectiva en</span>
<span class="t" style="left:1595.40px;top:411.06px;font-size:23.9px;color:#94a3b8;transform:scale(1.0,1.015);transform-origin:0 20.24px;">redes educativas</span>
<span class="t" style="left:715.38px;top:456.33px;font-size:28.55px;color:#f59e0b;font-weight:700;transform:scale(1.0,1.035);transform-origin:0 24.17px;">CONCURRENCIA DESDE FORMACIÓN INICIAL</span>
<span class="t" style="left:789.20px;top:500.52px;font-size:22.3px;color:#fbbf24;transform:scale(1.0,1.035);transform-origin:0 18.88px;">ENSEÑAR</span>
<span class="t" style="left:1110.77px;top:500.52px;font-size:22.3px;color:#fbbf24;transform:scale(1.0,1.035);transform-origin:0 18.88px;">LIDERAR</span>
<span class="t" style="left:72.08px;top:648.47px;font-size:27.2px;color:#ef4444;font-weight:700;letter-spacing:1.9px;transform:scale(1.04,1.0);transform-origin:0 23.03px;-webkit-text-stroke:1.6px #ef4444;">EJECUTOR</span>
<span class="t" style="left:71.47px;top:682.33px;font-size:21.1px;color:#e2e8f0;transform:scale(1.0,1.015);transform-origin:0 17.87px;">Curriculum pasivo</span>
<span class="t" style="left:87.28px;top:705.03px;font-size:21.1px;color:#e2e8f0;transform:scale(1.0,1.015);transform-origin:0 17.87px;">Sin autonomía</span>
<span class="t" style="left:1920.78px;top:648.47px;font-size:27.2px;color:#10b981;font-weight:700;letter-spacing:1.9px;transform:scale(1.04,1.0);transform-origin:0 23.03px;-webkit-text-stroke:1.6px #10b981;">LÍDER</span>
<span class="t" style="left:1882.76px;top:682.33px;font-size:21.1px;color:#e2e8f0;transform:scale(1.0,1.015);transform-origin:0 17.87px;">Agente de cambio</span>
<span class="t" style="left:1884.44px;top:705.03px;font-size:21.1px;color:#e2e8f0;transform:scale(1.0,1.015);transform-origin:0 17.87px;">Visión estratégica</span>
<span class="t" style="left:906.49px;top:652.41px;font-size:37.9px;color:#8b5cf6;font-weight:700;transform:scale(1.0,1.035);transform-origin:0 32.09px;">5 HABILIDADES</span>
<div class="b" style="left:282.50px;top:720.00px;width:233.80px;height:179.10px;border:2.4px solid #10b981;background:#1e293b;border-radius:14px;"></div>
<div class="b" style="left:374.25px;top:744.90px;width:49.00px;height:49.00px;border-radius:50%;background:rgba(16,185,129,0.33);"></div>
<span class="t" style="left:391.78px;top:753.77px;font-size:28.5px;color:#10b981;font-weight:700;transform:scale(0.94,1.035);transform-origin:0 24.13px;">5</span>
<span class="t" style="left:310.37px;top:800.64px;font-size:24.4px;color:#e2e8f0;font-weight:700;transform:scale(1.0,1.035);transform-origin:0 20.66px;">COMUNICADOR</span>
<span class="t" style="left:341.93px;top:827.47px;font-size:20.35px;color:#94a3b8;transform:scale(1.0,1.015);transform-origin:0 17.23px;">Narrativas que</span>
<span class="t" style="left:350.40px;top:846.27px;font-size:20.35px;color:#94a3b8;transform:scale(1.0,1.015);transform-origin:0 17.23px;">transforman</span>
<span class="t" style="left:358.77px;top:865.17px;font-size:20.35px;color:#94a3b8;transform:scale(1.0,1.015);transform-origin:0 17.23px;">prácticas</span>
<div class="b" style="left:608.75px;top:720.00px;width:233.80px;height:179.10px;border:2.4px solid #10b981;background:#1e293b;border-radius:14px;"></div>
<div class="b" style="left:700.50px;top:744.90px;width:49.00px;height:49.00px;border-radius:50%;background:rgba(16,185,129,0.33);"></div>
<span class="t" style="left:718.03px;top:753.77px;font-size:28.5px;color:#10b981;font-weight:700;transform:scale(0.94,1.035);transform-origin:0 24.13px;">6</span>
<span class="t" style="left:669.79px;top:800.64px;font-size:24.4px;color:#e2e8f0;font-weight:700;transform:scale(1.0,1.035);transform-origin:0 20.66px;">COACH</span>
<span class="t" style="left:671.58px;top:827.47px;font-size:20.35px;color:#94a3b8;transform:scale(1.0,1.015);transform-origin:0 17.23px;">Desarrollo de</span>
<span class="t" style="left:670.34px;top:846.27px;font-size:20.35px;color:#94a3b8;transform:scale(1.0,1.015);transform-origin:0 17.23px;">competencias</span>
<span class="t" style="left:687.58px;top:865.17px;font-size:20.35px;color:#94a3b8;transform:scale(1.0,1.015);transform-origin:0 17.23px;">digitales</span>
<div class="b" style="left:935.00px;top:720.00px;width:233.80px;height:179.10px;border:2.4px solid #10b981;background:#1e293b;border-radius:14px;"></div>
<div class="b" style="left:1026.75px;top:744.90px;width:49.00px;height:49.00px;border-radius:50%;background:rgba(16,185,129,0.33);"></div>
<span class="t" style="left:1044.32px;top:753.77px;font-size:28.5px;color:#10b981;font-weight:700;transform:scale(0.94,1.035);transform-origin:0 24.13px;">7</span>
<span class="t" style="left:980.08px;top:800.64px;font-size:24.4px;color:#e2e8f0;font-weight:700;transform:scale(1.0,1.035);transform-origin:0 20.66px;">FUTURISTA</span>
<span class="t" style="left:1002.74px;top:827.47px;font-size:20.35px;color:#94a3b8;transform:scale(1.0,1.015);transform-origin:0 17.23px;">Visión de IA</span>
<span class="t" style="left:998.69px;top:846.27px;font-size:20.35px;color:#94a3b8;transform:scale(1.0,1.015);transform-origin:0 17.23px;">en educación</span>
<span class="t" style="left:1002.88px;top:865.17px;font-size:20.35px;color:#94a3b8;transform:scale(1.0,1.015);transform-origin:0 17.23px;">del mañana</span>
<div class="b" style="left:1261.25px;top:720.00px;width:233.80px;height:179.10px;border:2.4px solid #10b981;background:#1e293b;border-radius:14px;"></div>
<div class="b" style="left:1353.00px;top:744.90px;width:49.00px;height:49.00px;border-radius:50%;background:rgba(16,185,129,0.33);"></div>
<span class="t" style="left:1370.53px;top:753.77px;font-size:28.5px;color:#10b981;font-weight:700;transform:scale(0.94,1.035);transform-origin:0 24.13px;">8</span>
<span class="t" style="left:1300.57px;top:800.64px;font-size:24.4px;color:#e2e8f0;font-weight:700;transform:scale(1.0,1.035);transform-origin:0 20.66px;">TECNÓLOGO</span>
<span class="t" style="left:1331.55px;top:827.47px;font-size:20.35px;color:#94a3b8;transform:scale(1.0,1.015);transform-origin:0 17.23px;">Integración</span>
<span class="t" style="left:1337.54px;top:846.27px;font-size:20.35px;color:#94a3b8;transform:scale(1.0,1.015);transform-origin:0 17.23px;">crítica de</span>
<span class="t" style="left:1325.47px;top:865.17px;font-size:20.35px;color:#94a3b8;transform:scale(1.0,1.015);transform-origin:0 17.23px;">herramientas</span>
<div class="b" style="left:1587.60px;top:720.00px;width:233.80px;height:179.10px;border:2.4px solid #10b981;background:#1e293b;border-radius:14px;"></div>
<div class="b" style="left:1679.20px;top:744.90px;width:49.00px;height:49.00px;border-radius:50%;background:rgba(16,185,129,0.33);"></div>
<span class="t" style="left:1696.77px;top:753.77px;font-size:28.5px;color:#10b981;font-weight:700;transform:scale(0.94,1.035);transform-origin:0 24.13px;">9</span>
<span class="t" style="left:1616.18px;top:800.64px;font-size:24.4px;color:#e2e8f0;font-weight:700;transform:scale(1.0,1.035);transform-origin:0 20.66px;">INVESTIGADOR</span>
<span class="t" style="left:1646.03px;top:827.47px;font-size:20.35px;color:#94a3b8;transform:scale(1.0,1.015);transform-origin:0 17.23px;">Evidencia para</span>
<span class="t" style="left:1659.55px;top:846.27px;font-size:20.35px;color:#94a3b8;transform:scale(1.0,1.015);transform-origin:0 17.23px;">decisiones</span>
<span class="t" style="left:1603.23px;top:866.04px;font-size:17.67px;color:#94a3b8;transform:scale(1.0,1.015);transform-origin:0 14.96px;">pedagógicas-andragógicas</span>
<div class="b" style="left:280.30px;top:961.90px;width:1545.90px;height:104.00px;border:1.5px solid rgba(59,130,246,0.7);background:rgba(15,23,42,0.8);border-radius:8px;"></div>
<span class="t" style="left:578.81px;top:977.14px;font-size:30.9px;color:#e2e8f0;font-weight:700;transform:scale(1.0,1.015);transform-origin:0 26.16px;">Fundamentado en evidencia científica reciente (King et al., 2023)</span>
<span class="t" style="left:486.03px;top:1020.06px;font-size:27.45px;color:#94a3b8;transform:scale(1.0,1.015);transform-origin:0 23.24px;">"Enseñar y liderar son actividades concurrentes que deben desarrollarse desde el primer día"</span>
<span class="t" style="left:2176.63px;top:381.78px;font-size:41.6px;color:#8b5cf6;font-weight:700;transform:scale(1.0,1.035);transform-origin:0 35.22px;">ECOSISTEMA</span>
<span class="t" style="left:2181.60px;top:418.58px;font-size:41.6px;color:#cbd5e1;transform:scale(1.0,1.035);transform-origin:0 35.22px;">CONECTADO</span>
<div class="b" style="left:2149.10px;top:486.00px;width:329.00px;height:93.30px;border:2.5px solid #3b82f6;background:#0f172a;border-radius:10px;"></div>
<span class="t" style="left:2214.66px;top:502.18px;font-size:32.5px;color:#3b82f6;font-weight:700;transform:scale(1.0,1.015);transform-origin:0 27.52px;">DigCompEdu</span>
<span class="t" style="left:2186.05px;top:538.64px;font-size:25.35px;color:#94a3b8;transform:scale(1.0,1.015);transform-origin:0 21.46px;">Competencias digitales</span>
<div class="b" style="left:2149.10px;top:603.80px;width:329.00px;height:93.30px;border:2.5px solid #8b5cf6;background:#0f172a;border-radius:10px;"></div>
<span class="t" style="left:2227.16px;top:620.18px;font-size:32.5px;color:#8b5cf6;font-weight:700;transform:scale(1.0,1.035);transform-origin:0 27.52px;">UNESCO IA</span>
<span class="t" style="left:2202.66px;top:656.94px;font-size:25.35px;color:#94a3b8;transform:scale(1.0,1.015);transform-origin:0 21.46px;">Competencias en IA</span>
<div class="b" style="left:2149.10px;top:722.10px;width:329.00px;height:93.30px;border:2.5px solid #10b981;background:#0f172a;border-radius:10px;"></div>
<span class="t" style="left:2230.36px;top:737.38px;font-size:32.5px;color:#10b981;font-weight:700;transform:scale(1.0,1.015);transform-origin:0 27.52px;">Rizomático</span>
<span class="t" style="left:2186.85px;top:774.34px;font-size:25.35px;color:#94a3b8;transform:scale(1.0,1.015);transform-origin:0 21.46px;">Aprendizaje emergente</span>
</div>
<span class="t" id="plus" style="left:992.2px;top:544.1px;font-size:29px;font-weight:700;color:#141b30;-webkit-text-stroke:0.5px #141b30;">+</span>
<span class="t" id="logoG" style="left:2391.6px;top:36.04px;font-size:86px;font-weight:700;color:#172033;-webkit-text-stroke:3px #172033;transform:scaleX(0.895);transform-origin:0 0;">G</span>
<div class="edge"></div>
</body></html>
